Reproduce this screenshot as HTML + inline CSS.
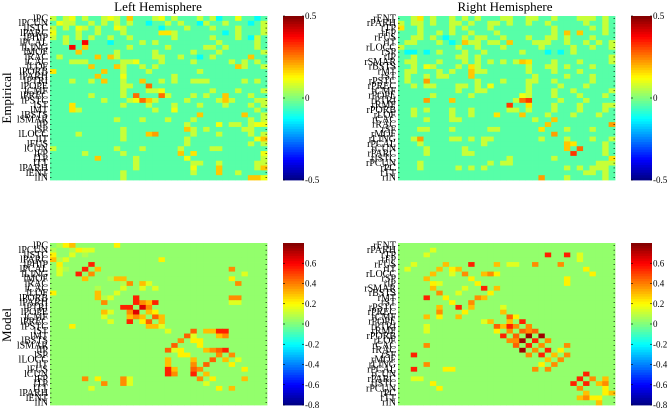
<!DOCTYPE html>
<html><head><meta charset="utf-8"><style>
body{margin:0;background:#fff;width:669px;height:410px;overflow:hidden;font-family:"Liberation Serif",serif}
svg text{font-family:"Liberation Serif",serif}
</style></head><body>
<svg id="fig" width="669" height="410"></svg>
<script>
// ---- data ----
const leftLabels=["lPC","lPCUN","lISTC","lPARC","lPHIP","lPCAL","lLING","lMOF","lRAC","lCAC","lLOF","lPORB","lPARH","lPTRI","lPOPE","lCMF","lPREC","lPSTC","lST","lMT","lBSTS","lSMAR","lIP","lSP","lLOCC","lIT","lFUS","lCUN","lFP","lTP","lTT","lPARH","lENT","lIN"];
const rightLabels=["rENT","rPARH","rTP","rFP","rFUS","rIT","rLOCC","rSP","rIP","rSMAR","rBSTS","rMT","rST","rPSTC","rPREC","rCMF","rPOPE","rPTRI","rRMF","rPORB","rLOF","rCAC","rRAC","rSF","rMOF","rLING","rPCAL","rCUN","rPARC","rISTC","rPCUN","rPC","rTT","rIN"];
// level codes -> values
const levelCodes="abcdefghijklm";
const empLevelValues=[-0.2,-0.12,-0.04,0.07,0.11,0.15,0.18,0.22,0.27,0.32,0.38,0.43,0.48];
const modelLevelValues=[-0.15,-0.08,-0.03,0.03,0.08,0.15,0.22,0.3,0.38,0.45,0.55,0.65,0.75];
const empRange=[-0.5,0.5];
const modelRange=[-0.8,0.8];
const empTicks=[0.5,0,-0.5];
const modelTicks=[0.6,0.4,0.2,0,-0.2,-0.4,-0.6,-0.8];
const empLeftRows=[
"dcdecdccdedcgcccdecdcccdcdbcceccbcd","ceddccdcdcdcdccbccdcdccbdccdcccbcd","dcdcedcdccedcccccbcccdcccdcccdcccd","ecccdccdcccdcccccffdcccccccbcdcccd",
"dcdcdcdccdccdccccccdcccccdcccdcbdc","ccdcckcccbccccdcdcccccccccdcccccdc","ccckcgccccccdcccccdcccccddcdccccdc","ccccgcccccdcccccdcccccdcccdccccccd",
"cdcccccgcgdcccccddccdccbcdcccccgcc","cccdddcccccddecccdccccdcccccdcdcdc","ccccccgcccgdccdcdccccccccccccgdccd","fcccccccgccdcccdcccccccdcccccccccc",
"cccccccgcccecccccccdcccccccccccccc","cccdccdcgccdccgccdcdccdddcccccdcdc","cccccccccccddccicccccccccccccccccc","cccccccccccdcccddecccccccdcccdcccd",
"ccccccdccccdcicccidcccdcdccgcccdcc","ccccccccdcccdeigdccccdccccdgdcccdd","cccfcccccccdcccdcccdcccdcccdcccdcd","cccfdcccccccccccdcceccccccccccccdc",
"cccccccccccccccccccccccgccccccgccd","ccccccccccdcccdcccdcccdccccccccdcd","cccccccccccccccccccccdccccecddcdee","cccccccccccdcccccccccgdcdcccccddcc",
"ccccdccccccdcccghcccccdcccdccccdcd","cccccccccccdcccccccccdcccccccccceg","cccccccccccccccccccccdcccccccccdcd","dcccccccccdcccdcccccdccccddccccccc",
"cccccdcccccdccccccccgcfcccccccccce","cccccccgcccccdcccccccecccccccccccd","cccccccccccccdccccccccddccdcccccdd","cccccccccccccdccccccccecccgcccccdg",
"cccccccccccdccccccccccdcccgccdcccc","cccccccccccdcccccccccccccccccccgge"];
const empRightRows=[
"ccdfcdccdcdcdcccddccddccdcccdddcdc","dcddcdccddcdccddcdccdccdcccccdccdc","fccdccccdcdcccdcccccccccdcccccdcdc","cccdccdcdccdcccdccccccccdcgcgcccdc",
"ccddcdcbccdcddccdcccdccddcdcccdccc","cddcccdcbcgddcddcgcccdddccdccdcdcd","dccccccccdccdcccdcccccdccccdccdccd","cbbcbcdcccdccdcccccdcccbcbcdcccccc",
"ccdccccccddcdccccccccccccccccccccd","cddcccdcccdcdcdcdcdgfcccdcccdccccd","ccdcedcccdcfdcccccccdccddcdcccdccc","cddcccdcdccgddccccccdcccdcccdccccc",
"cdccdcddcccgcccccccccdccccdcccdccc","cdcchcccccccdcccdcccddccdcccccdccc","ccdcddcccddcdcecccccdccccdcccdcccc","cccccccccdccddccccccdcccdccdcccccd",
"cccccdcccccdcccccccedcccdcccdcccdc","cccchcccgcccccccccdijccccdcccdcccc","cccccccccccccccccjccfcccdcccdcccdd","ccdcdcccdccdcccccddcdcccdcccdcccdc",
"ccdcccccdccdcccfcccgcccdcccdcccdcc","ccccdcccddcccccccccccdccgccccccccc","cccccccccccccccccccccccgccccccccch","cccddcccdcccccddccccccfcccdcccdccc",
"cccccccccccccccccccccccchccccccccc","ccdhccccddcdcddcccccccdcccdcccdccd","cccdcccccccccdccccccccccccgfccccdc","ccccdcccccdcccccccccccccccgcicccdc",
"ccccdcccccddcccccccccccccccjccccdc","cccccccccccccccccdccccccdccccccccf","cccdccccccccccdcddcccccccccccccddd","cccdcccccdcdcdccccccccccccdcdcdddc",
"cccccccccccccccccccccccccccccddcdc","cccccccccccccccccccccchcccdcccccdc"];
// sparse highlights [row,col,code] (mirrored symmetrically)
const modelLeftCells=[[0,2,"f"],[0,3,"g"],[0,10,"g"],[1,3,"f"],[1,4,"g"],[1,5,"f"],[0,1,"e"],[2,3,"f"],[2,0,"g"],[3,0,"h"],[3,1,"e"],[3,17,"f"],
[5,5,"k"],[6,4,"k"],[6,6,"i"],[7,5,"h"],[5,2,"e"],[6,1,"f"],
[8,12,"i"],[8,11,"e"],[8,14,"h"],[9,7,"e"],[10,7,"h"],[10,10,"f"],[9,16,"f"],[11,7,"h"],[11,9,"f"],[8,29,"i"],[11,29,"i"],[12,29,"f"],
[12,13,"k"],[12,15,"h"],[12,16,"k"],[13,11,"k"],[13,14,"h"],[14,12,"i"],[14,13,"l"],[14,15,"h"],[15,13,"i"],[15,16,"i"],[15,17,"h"],[16,15,"j"],[16,14,"g"],[17,16,"h"],[17,17,"f"],[14,9,"f"],[15,8,"f"],[17,3,"g"],
[18,18,"f"],[18,22,"j"],[18,25,"h"],[18,27,"k"],[19,22,"f"],[19,27,"i"],[20,20,"i"],[20,22,"g"],[21,19,"j"],[21,23,"g"],[22,18,"j"],[22,24,"f"],[22,25,"i"],[22,27,"k"],
[23,20,"g"],[23,26,"i"],[23,28,"i"],[24,18,"h"],[24,22,"h"],[25,24,"j"],[25,28,"g"],[26,18,"k"],[26,19,"h"],[26,22,"j"],[27,24,"h"],[28,5,"i"],[28,7,"g"],[28,11,"i"],[28,12,"f"],[29,24,"f"],[30,28,"h"],[30,6,"f"],[26,30,"g"]];
const modelRightCells=[[2,4,"f"],[2,28,"f"],[4,21,"i"],[4,25,"i"],[4,17,"f"],[4,18,"f"],[5,1,"f"],[5,6,"h"],[5,8,"g"],[6,10,"k"],[6,13,"h"],[6,14,"i"],[7,4,"h"],[7,26,"g"],[8,26,"g"],[8,6,"f"],[9,5,"h"],[9,10,"f"],[10,6,"i"],[11,12,"g"],[11,7,"g"],
[11,4,"k"],[11,13,"h"],[12,11,"i"],[12,8,"g"],[13,9,"k"],[14,10,"g"],[15,4,"h"],[15,6,"g"],[15,9,"h"],[16,13,"f"],[16,14,"h"],[17,15,"j"],[17,16,"h"],[17,17,"k"],
[18,17,"i"],[18,19,"j"],[18,15,"g"],[19,16,"k"],[19,18,"j"],[19,20,"i"],[20,17,"i"],[20,18,"i"],[20,19,"m"],[20,21,"j"],[21,18,"j"],[21,20,"k"],[21,22,"g"],
[22,19,"m"],[22,21,"i"],[23,20,"i"],[23,22,"k"],[23,2,"k"],[23,24,"i"],[24,23,"h"],[24,25,"i"],[25,24,"i"],[25,22,"g"],[26,2,"k"],[26,21,"i"],[26,23,"i"],
[27,29,"k"],[28,28,"k"],[28,30,"i"],[29,29,"k"],[28,3,"f"],[29,5,"g"],[30,6,"g"],[31,29,"h"],[32,30,"h"],[33,31,"h"],[30,32,"g"],[31,32,"g"],[28,32,"h"],[29,32,"i"]];
// ---- drawing ----
const NS="http://www.w3.org/2000/svg";
const svg=document.getElementById("fig");
function mk(tag,attrs,parent){const e=document.createElementNS(NS,tag);for(const k in attrs)e.setAttribute(k,attrs[k]);(parent||svg).appendChild(e);return e;}
function jet(t){t=Math.max(0,Math.min(1,t));const c=x=>Math.round(255*Math.max(0,Math.min(1,1.5-Math.abs(4*t-x))));return `rgb(${c(3)},${c(2)},${c(1)})`;}
function codeVal(ch,vals){const i=levelCodes.indexOf(ch);return i<0?vals[3]:vals[i];}
function fromRows(rows,vals){return rows.map(r=>r.padEnd(34,"c").slice(0,34).split("").map(ch=>codeVal(ch,vals)));}
function fromCells(cells,vals){const m=[];for(let i=0;i<34;i++){m.push(new Array(34).fill(vals[3]));}
 cells.forEach(([r,c,ch])=>{const v=codeVal(ch,vals);m[r][c]=v;m[c][r]=v;});return m;}
function heatmap(name,mat,range,x0,y0,w,h,labels){
 const g=mk("g",{});  
 const n=mat.length, cw=w/n, ch=h/n;
 const xs=i=>x0+i*cw, ys=j=>y0+j*ch, cs=v=>(v-range[0])/(range[1]-range[0]);
 for(let r=0;r<n;r++)for(let c=0;c<n;c++){
  const cell=mk("rect",{x:xs(c).toFixed(2),y:ys(r).toFixed(2),width:(cw+0.4).toFixed(2),height:(ch+0.4).toFixed(2),fill:jet(cs(mat[r][c]))},g);
  
  
 }
 for(let r=0;r<n;r++){
  mk("line",{x1:x0,x2:x0+1.5,y1:ys(r+0.5),y2:ys(r+0.5),stroke:"#000","stroke-width":0.6},g);
  mk("line",{x1:x0+w-1.5,x2:x0+w,y1:ys(r+0.5),y2:ys(r+0.5),stroke:"#000","stroke-width":0.6},g);
  const t=mk("text",{x:x0-2,y:ys(r+0.5)+3,"font-size":"10","text-anchor":"end",fill:"#000"},g);
  t.textContent=labels[r];
  
  
 }
}
function colorbar(name,range,ticks,x0,y0,w,h){
 const g=mk("g",{});  
 const steps=64;
 for(let i=0;i<steps;i++){mk("rect",{x:x0,y:(y0+h-(i+1)*h/steps).toFixed(2),width:w,height:(h/steps+0.4).toFixed(2),fill:jet((i+0.5)/steps)},g);}
 const ys=v=>y0+h-(v-range[0])/(range[1]-range[0])*h;
 ticks.forEach(v=>{const y=ys(v);
  mk("line",{x1:x0,x2:x0+2,y1:y,y2:y,stroke:"#000","stroke-width":0.6},g);
  mk("line",{x1:x0+w-2,x2:x0+w,y1:y,y2:y,stroke:"#000","stroke-width":0.6},g);
  const t=mk("text",{x:x0+w+1,y:y+3,"font-size":"9",fill:"#000"},g);
  t.textContent=(v===0?"0":String(v));
  
  
 });
}
heatmap("empirical-left-heatmap",fromRows(empLeftRows,empLevelValues),empRange,50,16,217,164,leftLabels);
heatmap("empirical-right-heatmap",fromRows(empRightRows,empLevelValues),empRange,398,16,217,164,rightLabels);
heatmap("model-left-heatmap",fromCells(modelLeftCells,modelLevelValues),modelRange,50,243,217,162,leftLabels);
heatmap("model-right-heatmap",fromCells(modelRightCells,modelLevelValues),modelRange,398,243,217,162,rightLabels);
colorbar("empirical-left-colorbar",empRange,empTicks,283,16,21,164);
colorbar("empirical-right-colorbar",empRange,empTicks,631,16,21,164);
colorbar("model-left-colorbar",modelRange,modelTicks,283,243,21,162);
colorbar("model-right-colorbar",modelRange,modelTicks,631,243,21,162);
function label(txt,name,attrs){const t=mk("text",Object.assign({fill:"#000","font-size":"13"},attrs));t.textContent=txt;
 }
label("Left Hemisphere","left-title",{x:158,y:11,"text-anchor":"middle"});
label("Right Hemisphere","right-title",{x:505,y:11,"text-anchor":"middle"});
label("Empirical","empirical-row-title",{x:0,y:0,"text-anchor":"middle",transform:"translate(11,98) rotate(-90)"});
label("Model","model-row-title",{x:0,y:0,"text-anchor":"middle",transform:"translate(11,325) rotate(-90)"});
</script>
</body></html>
